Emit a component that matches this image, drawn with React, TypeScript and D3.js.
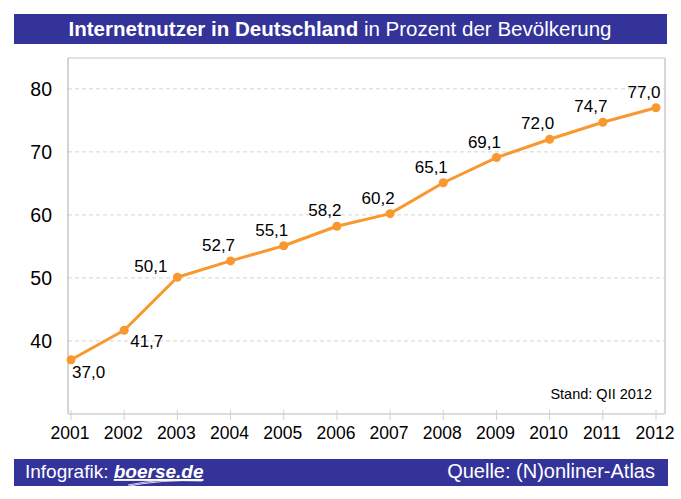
import React from "react";
import * as d3 from "d3";

const years = [2001, 2002, 2003, 2004, 2005, 2006, 2007, 2008, 2009, 2010, 2011, 2012];
const values = [37.0, 41.7, 50.1, 52.7, 55.1, 58.2, 60.2, 65.1, 69.1, 72.0, 74.7, 77.0];
const labelPlacement = ["below", "below", "left", "above", "above", "above", "above", "above", "above", "above", "above", "above"];
const yTicks = [40, 50, 60, 70, 80];
const titleBold = "Internetnutzer in Deutschland";
const titleRest = " in Prozent der Bevölkerung";
const footerLeft = "Infografik: ";
const footerBrand = "boerse.de";
const footerRight = "Quelle: (N)onliner-Atlas";
const note = "Stand: QII 2012";

const W = 681;
const H = 499;
const FONT = "'Liberation Sans', Arial, Helvetica, sans-serif";
const NAVY = "#333399";
const ORANGE = "#F8982E";

export default function App() {
  const x = d3.scaleLinear().domain([2001, 2012]).range([71, 656]);
  const y = d3.scaleLinear().domain([28.4, 84.9]).range([414, 58]);
  const left = 68, right = 665, top = y(84.9), bottom = y(28.4);
  const line = d3.line<number>().x((_, i) => x(years[i])).y((d) => y(d));
  const fmt = (v: number) => v.toFixed(1).replace(".", ",");

  return (
    <svg width={W} height={H} style={{ position: "absolute", left: 0, top: 0, background: "#fff" }} fontFamily={FONT}>
      <rect x={0} y={0} width={W} height={H} fill="#fff" />
      {/* title bar */}
      <rect x={14} y={14} width={653} height={30} fill={NAVY} />
      <text x={340} y={36} textAnchor="middle" fontSize={20.5} fill="#fff" textLength={543} lengthAdjust="spacingAndGlyphs">
        <tspan fontWeight="bold">{titleBold}</tspan>
        <tspan>{titleRest}</tspan>
      </text>

      {/* frame */}
      <line x1={left} x2={right} y1={top} y2={top} stroke="#c8c8c8" />
      <line x1={right} x2={right} y1={top} y2={bottom} stroke="#b0b0b0" />
      {/* gridlines */}
      {yTicks.map((t) => (
        <line key={t} x1={left} x2={right} y1={y(t)} y2={y(t)} stroke="#d4d4d4" strokeDasharray="4,3" />
      ))}
      <line x1={left} x2={left} y1={top} y2={bottom} stroke="#aaaaaa" />
      <line x1={left} x2={right} y1={bottom} y2={bottom} stroke="#dcdcdc" strokeWidth={2} />
      {years.map((yr) => (
        <line key={yr} x1={x(yr)} x2={x(yr)} y1={bottom - 4} y2={bottom + 6} stroke="#d0d0d0" />
      ))}
      {/* y labels */}
      {yTicks.map((t) => (
        <text key={t} x={52} y={y(t) + 7} textAnchor="end" fontSize={19.5} fill="#000">
          {t}
        </text>
      ))}
      {/* x labels */}
      {years.map((yr) => (
        <text key={yr} x={x(yr) - 1} y={439} textAnchor="middle" fontSize={17.5} fill="#000">
          {yr}
        </text>
      ))}

      {/* series */}
      <path d={line(values) || ""} fill="none" stroke={ORANGE} strokeWidth={3} strokeLinejoin="round" />
      {values.map((v, i) => (
        <circle key={i} cx={x(years[i])} cy={y(v)} r={4.5} fill={ORANGE} />
      ))}
      {values.map((v, i) => {
        const p = labelPlacement[i];
        let lx = x(years[i]), ly = y(v), anchor = "middle";
        if (p === "below") {
          anchor = "start";
          lx += i === 0 ? 1 : 6;
          ly += i === 0 ? 18 : 17;
        } else if (p === "left") {
          anchor = "end";
          lx -= 10;
          ly -= 5;
        } else {
          lx -= 12;
          ly -= 10;
        }
        return (
          <text key={i} x={lx} y={ly} textAnchor={anchor} fontSize={17} fill="#000">
            {fmt(v)}
          </text>
        );
      })}
      <text x={652} y={399} textAnchor="end" fontSize={14.5} fill="#000">
        {note}
      </text>

      {/* footer */}
      <rect x={14} y={459} width={654} height={27} fill={NAVY} />
      <text x={25} y={478} fontSize={19} fill="#fff">
        <tspan>{footerLeft}</tspan>
        <tspan fontWeight="bold" fontStyle="italic" textDecoration="underline">{footerBrand}</tspan>
      </text>
      <path d="M124,487 Q162,479 202,481" fill="none" stroke="#fff" strokeWidth={0.8} />
      <path d="M128,485 Q162,478 198,480" fill="none" stroke="#fff" strokeWidth={0.8} />
      <text x={655} y={478} textAnchor="end" fontSize={20} fill="#fff">
        {footerRight}
      </text>
    </svg>
  );
}
